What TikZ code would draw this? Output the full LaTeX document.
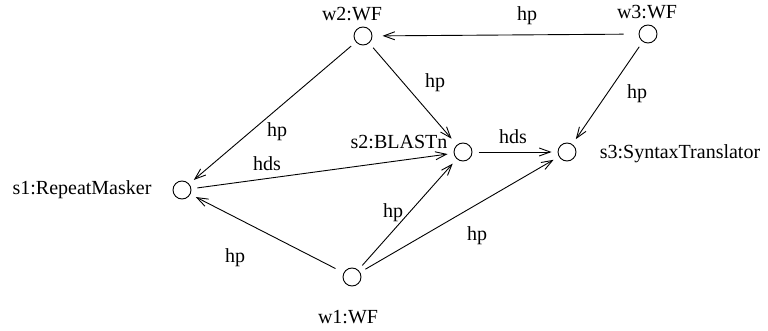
\documentclass[tikz,border=0pt]{standalone}
\usepackage{fontspec}
\setmainfont{Liberation Serif}
\usetikzlibrary{arrows.meta}
\begin{document}
\begin{tikzpicture}[x=1pt,y=-1pt,
  state/.style={circle,draw,line width=0.9pt,minimum size=18pt,inner sep=0pt,outer sep=6.5pt},
  txt/.style={font=\fontsize{20}{24}\selectfont,inner sep=0pt},
  lbl/.style={font=\fontsize{20}{24}\selectfont,inner sep=0pt},
  flow/.style={line width=0.9pt,-{Straight Barb[length=11pt,width=8pt,line width=0.9pt]}}]
\useasboundingbox (0,0) rectangle (768,331);
% components
\node[state] (w2) at (363,36) {};
\node[state] (w3) at (648,34) {};
\node[state] (s1) at (182,190) {};
\node[state] (s2) at (463,152) {};
\node[state] (s3) at (567,152) {};
\node[state] (w1) at (352,277) {};
% component names
\node[txt] (tw2) at (352,14) {w2:WF};
\node[txt] (tw3) at (647,12) {w3:WF};
\node[txt] (ts1) at (82,190) {s1:RepeatMasker};
\node[txt] (ts2) at (399,142) {s2:BLASTn};
\node[txt] (ts3) at (680,154) {s3:SyntaxTranslator};
\node[txt] (tw1) at (348,317) {w1:WF};
% connections
\draw[flow,shorten <=9pt,shorten >=4pt] (w3) -- (w2);
\draw[flow,shorten >=2pt] (w2) -- (s2);
\draw[flow] (w3) -- (s3);
\draw[flow] (s2) -- (s3);
\draw[flow] (w2) -- (s1);
\draw[flow] (s1) -- (s2);
\draw[flow,shorten <=3pt] (w1) -- (s1);
\draw[flow] (w1) -- (s2);
\draw[flow] (w1) -- (s3);
% connection labels
\node[lbl] (l1) at (527,16) {hp};
\node[lbl] (l2) at (435,83) {hp};
\node[lbl] (l3) at (637,94) {hp};
\node[lbl] (l4) at (513,137) {hds};
\node[lbl] (l5) at (277,132) {hp};
\node[lbl] (l6) at (267,164) {hds};
\node[lbl] (l7) at (235,258) {hp};
\node[lbl] (l8) at (393,213) {hp};
\node[lbl] (l9) at (477,236) {hp};
\end{tikzpicture}
\end{document}
